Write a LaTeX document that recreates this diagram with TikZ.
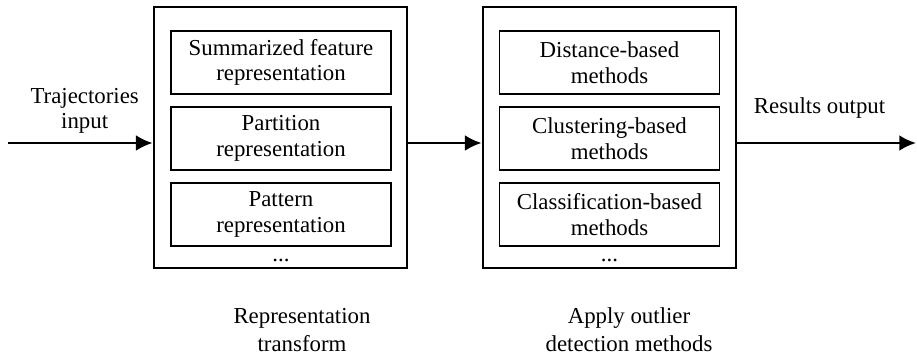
\documentclass[tikz,border=0pt]{standalone}
\usepackage{fontspec}
\setmainfont{Liberation Serif}
\usetikzlibrary{arrows.meta}

\tikzset{
  stage/.style={draw, line width=1.6pt, minimum width=5.06cm, minimum height=5.22cm},
  method/.style={draw, line width=0.6pt, minimum width=4.4cm, minimum height=1.26cm, align=center, inner sep=0pt},
  caption/.style={align=center, font=\fontsize{13}{16}\selectfont},
  flow/.style={line width=1.4pt, -{Latex[length=9.5pt, width=9pt]}}
}

\begin{document}
\begin{tikzpicture}[x=0.02cm, y=-0.02cm, font=\fontsize{13}{14.5}\selectfont]
\useasboundingbox (0,0) rectangle (917,357);

\node[stage] (rep) at (280.5,137.5) {}; %representation
\node[method] (feat) at (281,62.5) {Summarized feature\\representation};
\node[method] (part) at (281,138.5) {Partition\\representation};
\node[method] (patt) at (281,214.5) {Pattern\\representation};
\node[anchor=base] (repdots) at (281,262) {...};

\node[stage] (app) at (609.5,137.5) {}; %detection
\node[method] (dist) at (609.5,62.5) {Distance-based\\methods};
\node[method] (clus) at (609.5,138.5) {Clustering-based\\methods};
\node[method] (clas) at (609.5,214.5) {Classification-based\\methods};
\node[anchor=base] (appdots) at (609.5,262) {...};

\coordinate (in) at (8,143);
\coordinate (out) at (916,143);

\draw[flow] (in) -- (in -| rep.west) node[align=center, above, midway, pos=0.53, yshift=1.2] (inlabel) {Trajectories\\input};
\draw[flow] (rep.east |- in) -- (in -| app.west);
\draw[flow] (app.east |- in) -- (out) node[above, midway, pos=0.46, yshift=10] (outlabel) {Results output};

\node[caption] (repcap) at (302,330) {Representation\\transform};
\node[caption] (appcap) at (629,330) {Apply outlier\\detection methods};

\end{tikzpicture}
\end{document}
